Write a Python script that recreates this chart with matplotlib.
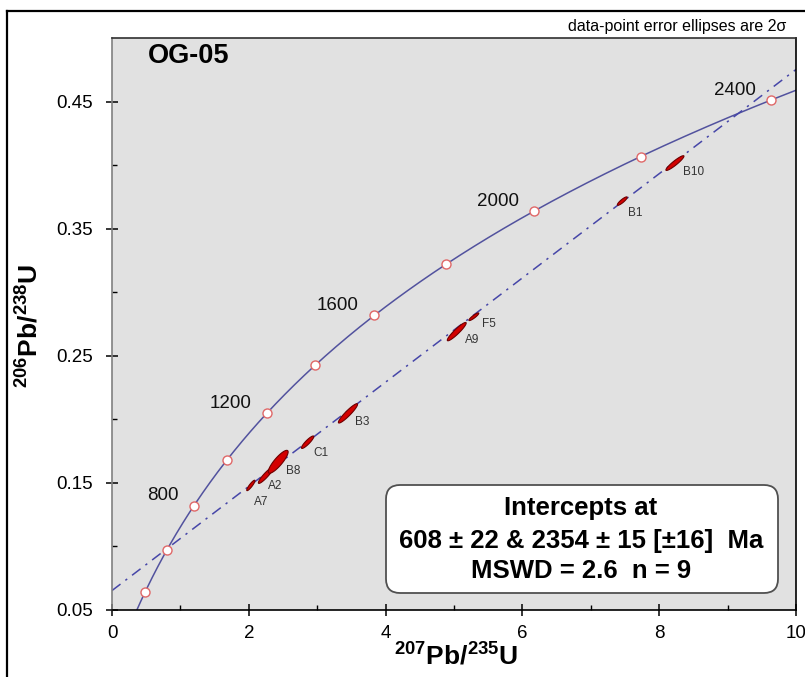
import numpy as np
import matplotlib.pyplot as plt
from matplotlib.patches import FancyBboxPatch
from matplotlib.lines import Line2D

plt.rcParams['font.family'] = ['Liberation Sans', 'DejaVu Sans']
plt.rcParams['mathtext.fontset'] = 'custom'
plt.rcParams['mathtext.rm'] = 'Liberation Sans'
plt.rcParams['mathtext.bf'] = 'Liberation Sans:bold'

# decay constants (1/yr)
lam235 = 9.8485e-10
lam238 = 1.55125e-10

# concordia age marks (Ma) and which ones get a label
mark_ages = [400, 600, 800, 1000, 1200, 1400, 1600, 1800, 2000, 2200, 2400]
label_ages = [800, 1200, 1600, 2000, 2400]

# discordia intercepts (Ma)
lower_age = 608
upper_age = 2354

# analyses: 207Pb/235U, 206Pb/238U, 2s errors, error correlation
names = ['A7', 'A2', 'B8', 'C1', 'B3', 'A9', 'F5', 'B1', 'B10']
x207 = [2.03, 2.25, 2.43, 2.86, 3.45, 5.04, 5.29, 7.46, 8.23]
y206 = [0.148, 0.156, 0.1666, 0.182, 0.2047, 0.269, 0.2807, 0.3717, 0.4016]
err_x = [0.060, 0.110, 0.145, 0.090, 0.140, 0.138, 0.072, 0.072, 0.132]
err_y = [0.0041, 0.0064, 0.0090, 0.0049, 0.0076, 0.0072, 0.0030, 0.0033, 0.0058]
rho = [0.90, 0.92, 0.86, 0.90, 0.93, 0.93, 0.90, 0.88, 0.93]

# label offsets (pixels right / down)
lbl_dx = [3.5, 2.5, 8, 6, 7.5, 8.5, 8.5, 5.5, 8]
lbl_dy = [10.5, 5, 3, 4.5, 2.5, 2, 1, 5.5, 2.5]


def concordia(t_ma):
    t = np.asarray(t_ma, dtype=float) * 1e6
    return np.exp(lam235 * t) - 1, np.exp(lam238 * t) - 1


fig = plt.figure(figsize=(8.05, 6.77), dpi=100)
ax = fig.add_axes([112 / 805, 1 - 610 / 677, 684 / 805, 572 / 677])
ax.set_facecolor('#e1e1e1')
ax.set_xlim(0, 10)
ax.set_ylim(0.05, 0.5)

# concordia curve
tc = np.linspace(0, 2800, 500)
cx, cy = concordia(tc)
ax.plot(cx, cy, color='#52529e', lw=1.1, zorder=2)

# discordia line through the two intercepts
lx, ly = concordia([lower_age, upper_age])
slope = (ly[1] - ly[0]) / (lx[1] - lx[0])
dx = np.array([0, 10.0])
ax.plot(dx, ly[0] + slope * (dx - lx[0]), color='#4646a8', lw=1.1,
        ls=(0, (7, 4, 1.5, 4)), zorder=2)

# error ellipses
th = np.linspace(0, 2 * np.pi, 120)
circ = np.vstack([np.cos(th), np.sin(th)])
for i in range(len(names)):
    sx, sy, r = err_x[i], err_y[i], rho[i]
    cov = np.array([[sx * sx, r * sx * sy], [r * sx * sy, sy * sy]])
    L = np.linalg.cholesky(cov)
    pts = L @ circ
    ax.fill(x207[i] + pts[0], y206[i] + pts[1], facecolor='#d40000',
            edgecolor='#6e0000', lw=0.8, zorder=3)
    ax.annotate(names[i], (x207[i], y206[i]),
                xytext=(lbl_dx[i] * 0.72, -lbl_dy[i] * 0.72),
                textcoords='offset points', ha='left', va='top',
                fontsize=8.5, color='#333333', zorder=4)

# age marks on concordia
mx, my = concordia(mark_ages)
ax.plot(mx, my, 'o', ms=6.5, mfc='white', mec='#e06868', mew=1.0, zorder=4)
for a in label_ages:
    px, py = concordia([a])
    ax.annotate(str(a), (px[0], py[0]), xytext=(-11, 7),
                textcoords='offset points', ha='right', va='center',
                fontsize=13.5, color='#111111')

# axes styling
ax.set_xticks([0, 2, 4, 6, 8, 10])
ax.set_xticks([1, 3, 5, 7, 9], minor=True)
ax.set_yticks([0.05, 0.15, 0.25, 0.35, 0.45])
ax.set_yticks([0.1, 0.2, 0.3, 0.4], minor=True)
ax.set_yticklabels(['0.05', '0.15', '0.25', '0.35', '0.45'])
ax.tick_params(which='major', direction='inout', length=9, width=1.1,
               labelsize=13.5, pad=6)
ax.tick_params(axis='y', which='major', pad=9)
ax.tick_params(which='minor', direction='in', length=3.5, width=1.0)
ax.spines['left'].set_color('#808080')
ax.spines['top'].set_color('#303030')
for s in ax.spines.values():
    s.set_linewidth(1.2)

fig.text(456 / 805, 1 - 656 / 677, r'$\mathbf{^{207}Pb/^{235}U}$',
         fontsize=19, ha='center', va='center')
fig.text(30 / 805, 1 - 326 / 677, r'$\mathbf{^{206}Pb/^{238}U}$',
         fontsize=19, rotation=90, ha='center', va='center')

fig.text(148 / 805, 1 - 56 / 677, 'OG-05', fontsize=19.5,
         fontweight='bold', ha='left', va='center')
fig.text(786 / 805, 1 - 27 / 677, 'data-point error ellipses are 2\u03c3',
         fontsize=11.5, ha='right', va='center',
         family=['Liberation Sans Narrow', 'Liberation Sans', 'DejaVu Sans'])

# intercept box
box = FancyBboxPatch((3.86, 0.84), 3.92, 1.08,
                     boxstyle='round,pad=0,rounding_size=0.14',
                     transform=fig.dpi_scale_trans, facecolor='white',
                     edgecolor='#505050', lw=1.3, zorder=5)
fig.patches.append(box)
for txt, yy in [('Intercepts at', 508),
                ('608 \u00b1 22 & 2354 \u00b1 15 [\u00b116]  Ma', 541),
                ('MSWD = 2.6  n = 9', 571)]:
    fig.text(581 / 805, 1 - yy / 677, txt, fontsize=18.5, fontweight='bold',
             ha='center', va='center', zorder=6)

# outer frame (left and top edges)
fig.lines.append(Line2D([7 / 805, 7 / 805], [0, 1 - 11 / 677],
                        transform=fig.transFigure, color='black', lw=1.6))
fig.lines.append(Line2D([7 / 805, 1], [1 - 11 / 677, 1 - 11 / 677],
                        transform=fig.transFigure, color='black', lw=1.6))

fig.savefig('out.png', dpi=100)
